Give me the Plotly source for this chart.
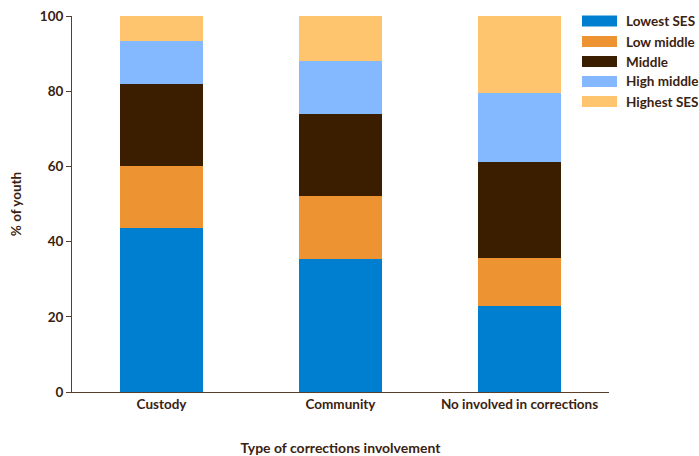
import plotly.graph_objects as go

categories = ["Custody", "Community", "No involved in corrections"]
series_names = ["Lowest SES", "Low middle", "Middle", "High middle", "Highest SES"]
lowest_ses = [43.7, 35.5, 23.0]
low_middle = [16.3, 16.5, 12.7]
middle = [22.0, 21.9, 25.5]
high_middle = [11.3, 14.1, 18.3]
highest_ses = [6.7, 12.0, 20.5]
colors = ["#007FD0", "#EE9332", "#3B1D00", "#85B9FF", "#FEC46E"]
y_ticks = [0, 20, 40, 60, 80, 100]

values = [lowest_ses, low_middle, middle, high_middle, highest_ses]
text_color = "#3A2211"
font_family = "Lato, 'Open Sans', sans-serif"
FS = 13.5

fig = go.Figure()
for name, vals, col in zip(series_names, values, colors):
    fig.add_trace(go.Bar(x=categories, y=vals, name=name, marker=dict(color=col, line=dict(width=0)),
                         width=0.46))

# custom legend (wide swatches)
row_y = [21, 41.5, 61.5, 81.5, 101.5]
H = 456
PH = H - 16 - 64
for name, col, ry in zip(series_names, colors, row_y):
    fig.add_shape(type="rect", xref="paper", yref="paper",
                  x0=(582 - 72) / 537, x1=(617 - 72) / 537,
                  y0=1 - (ry + 5.5 - 16) / PH, y1=1 - (ry - 5.5 - 16) / PH,
                  fillcolor=col, line=dict(width=0))
    fig.add_annotation(xref="paper", yref="paper", x=(624 - 72) / 537,
                       y=1 - (ry - 16) / PH, text="<b>" + name + "</b>", showarrow=False,
                       xanchor="left", yanchor="middle",
                       font=dict(family=font_family, size=13.5, color=text_color))

fig.update_layout(
    barmode="stack",
    width=699, height=456,
    margin=dict(l=72, r=90, t=16, b=64),
    plot_bgcolor="white", paper_bgcolor="white",
    showlegend=False,
    font=dict(family=font_family, size=FS, color=text_color),
    xaxis=dict(
        automargin=False,
        showline=True, linecolor="#5A3F2A", linewidth=1, ticks="",
        tickfont=dict(family=font_family, size=FS, color=text_color, weight="bold"),
        title=dict(text="<b>Type of corrections involvement</b>", standoff=32,
                   font=dict(family=font_family, size=14, color=text_color)),
    ),
    yaxis=dict(
        automargin=False,
        range=[0, 100], tickvals=y_ticks, showgrid=False, zeroline=False,
        showline=True, linecolor="#5A3F2A", linewidth=1,
        ticks="outside", ticklen=5, tickcolor="#5A3F2A",
        tickfont=dict(family=font_family, size=FS, color=text_color, weight="bold"),
        title=dict(text="<b>% of youth</b>", standoff=15,
                   font=dict(family=font_family, size=FS, color=text_color)),
    ),
)

fig.write_html("out.html", config={"displayModeBar": False},
               post_script="document.body.style.margin='0';")
